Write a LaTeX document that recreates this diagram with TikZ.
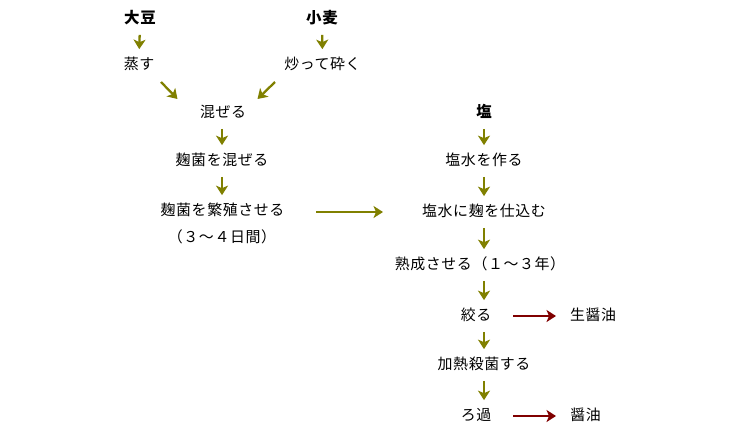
\documentclass[tikz,border=0pt]{standalone}
\usepackage{fontspec}
\newfontfamily\jp[LetterSpace=4]{Noto Sans CJK JP}
\usepackage{xcolor}
\usetikzlibrary{arrows.meta}
\definecolor{flowolive}{RGB}{128,128,0}
\definecolor{flowred}{RGB}{128,0,0}

\begin{document}
\begin{tikzpicture}[x=0.02cm,y=-0.02cm,
  txt/.style={inner sep=0pt,text height=0.21cm,text depth=0.01cm,font=\jp\fontsize{8.5pt}{10pt}\selectfont},
  hd/.style={txt,font=\jp\bfseries\fontsize{8.8pt}{10pt}\selectfont},
  arr/.style={draw=flowolive,line width=1.3pt,-{Stealth[length=0.19cm,width=0.24cm,inset=0.05cm]}},
  down/.style={arr,shorten <=0.22cm,shorten >=0.18cm},
  outarr/.style={arr,draw=flowred}]
\useasboundingbox (0,0) rectangle (730,430);
\node[hd] (daizu) at (140,18) {大豆};
\node[hd] (komugi) at (322,18) {小麦};
\node[txt] (musu) at (139,64) {蒸す};
\node[txt] (kudaku) at (322.5,64) {炒って砕く};
\node[txt] (mazeru) at (223,112) {混ぜる};
\node[txt] (kojimaze) at (222,160) {麹菌を混ぜる};
\node[txt] (hanshoku) at (222.5,210) {麹菌を繁殖させる};
\node[txt] (nissu) at (222,237) {（３～４日間）};
\node[hd] (shio) at (484,112) {塩};
\node[txt] (ensui) at (484,160) {塩水を作る};
\node[txt] (shikomi) at (484,211) {塩水に麹を仕込む};
\node[txt] (jukusei) at (480,264) {熟成させる（１～３年）};
\node[txt] (shiboru) at (476,315) {絞る};
\node[txt] (nama) at (593,315) {生醤油};
\node[txt] (kanetsu) at (484,364) {加熱殺菌する};
\node[txt] (roka) at (476,415) {ろ過};
\node[txt] (shoyu) at (585.5,415) {醤油};
\draw[down] (daizu.south) -- (musu.north);
\draw[down] (komugi.south) -- (kudaku.north);
\draw[arr] ([shift={(22,18)}]musu.center) -- ([shift={(-45.5,-13)}]mazeru.center);
\draw[arr] ([shift={(-47.5,18)}]kudaku.center) -- ([shift={(34.5,-13)}]mazeru.center);
\draw[down] (mazeru.south -| kojimaze) -- (kojimaze.north);
\draw[down] (kojimaze.south) -- (hanshoku.north -| kojimaze);
\draw[arr] ([shift={(93.5,2)}]hanshoku.center) -- ([shift={(-101,1)}]shikomi.center);
\draw[down] (shio.south) -- (ensui.north);
\draw[down] (ensui.south) -- (shikomi.north);
\draw[down] (shikomi.south) -- (jukusei.north -| shio);
\draw[down] (jukusei.south -| shio) -- (shiboru.north -| shio);
\draw[down] (shiboru.south -| shio) -- (kanetsu.north);
\draw[down] (kanetsu.south) -- (roka.north -| shio);
\draw[outarr] ([shift={(37,1)}]shiboru.center) -- ([shift={(-37,1)}]nama.center);
\draw[outarr] ([shift={(37,1)}]roka.center) -- ([shift={(-29.5,1)}]shoyu.center);
\end{tikzpicture}
\end{document}
